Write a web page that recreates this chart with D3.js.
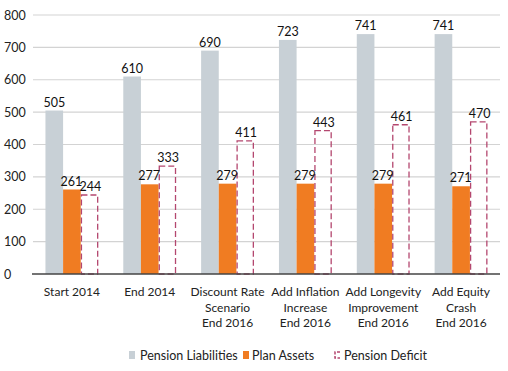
<!DOCTYPE html>
<html><head><meta charset="utf-8">
<script src="https://cdn.jsdelivr.net/npm/d3@7"></script>
<style>body{margin:0;background:#fff}svg{display:block;font-family:Lato,sans-serif}</style>
</head><body><svg id="c" width="508" height="371"></svg>
<script>
const categories = [["Start 2014"],["End 2014"],["Discount Rate","Scenario","End 2016"],["Add Inflation","Increase","End 2016"],["Add Longevity","Improvement","End 2016"],["Add Equity","Crash","End 2016"]];
const liabilities = [505,610,690,723,741,741];
const assets = [261,277,279,279,279,271];
const deficit = [244,333,411,443,461,470];
const seriesNames = ["Pension Liabilities","Plan Assets","Pension Deficit"];
const yTicks = [0,100,200,300,400,500,600,700,800];

const svg = d3.select("#c");
const x0 = d3.scaleBand().domain(d3.range(categories.length)).range([33,500]).paddingInner(0.32).paddingOuter(0.16);
const x1 = d3.scaleBand().domain([0,1,2]).range([0,x0.bandwidth()]);
const y = d3.scaleLinear().domain([0,800]).range([274,15]);

// grid
svg.append("g").selectAll("line").data(yTicks.slice(1)).join("line")
  .attr("x1",33).attr("x2",500).attr("y1",d=>y(d)).attr("y2",d=>y(d))
  .attr("stroke","#d3d3d3").attr("stroke-width",1.2);
svg.append("g").selectAll("text").data(yTicks).join("text")
  .attr("x",4).attr("y",d=>y(d)+4.5).text(d=>d)
  .attr("font-size",12.5).attr("fill","#222");

const data = categories.map((c,i)=>({i, vals:[liabilities[i],assets[i],deficit[i]]}));
const g = svg.append("g").selectAll("g").data(data).join("g")
  .attr("transform",d=>`translate(${x0(d.i)},0)`);
const colors = ["#c8d0d6","#f07c22","none"];
g.selectAll("rect").data(d=>d.vals.map((v,k)=>({v,k}))).join("rect")
  .attr("x",d=>x1(d.k)+(d.k===2?0.7:0)).attr("width",d=>x1.bandwidth()-(d.k===2?1.4:0))
  .attr("y",d=>y(d.v)).attr("height",d=>y(0)-y(d.v))
  .attr("fill",d=>colors[d.k])
  .attr("stroke",d=>d.k===2?"#b4476f":"none")
  .attr("stroke-width",1.3).attr("stroke-dasharray","6,3");
g.selectAll("text.v").data(d=>d.vals.map((v,k)=>({v,k}))).join("text").attr("class","v")
  .attr("x",d=>x1(d.k)+x1.bandwidth()/2+(d.k===1?-0.5:d.k===2?0.8:0)).attr("y",d=>y(d.v)-4)
  .attr("text-anchor","middle").attr("font-size",12.5).attr("fill","#111").text(d=>d.v);

// axis line
svg.append("line").attr("x1",32).attr("x2",500).attr("y1",y(0)).attr("y2",y(0))
  .attr("stroke","#444").attr("stroke-width",1.3);

// category labels
const cl = svg.append("g").selectAll("text").data(categories).join("text")
  .attr("text-anchor","middle").attr("font-size",12).attr("fill","#222")
  .attr("transform",(d,i)=>`translate(${x0(i)+x0.bandwidth()/2},0)`);
cl.selectAll("tspan").data(d=>d).join("tspan").attr("x",0)
  .attr("y",(d,j)=>296+j*15.5).text(d=>d);

// legend
const lg = svg.append("g").attr("font-size",12.5).attr("fill","#222");
const legX = [129,243,335];
lg.append("rect").attr("x",legX[0]).attr("y",351).attr("width",6).attr("height",8).attr("fill",colors[0]);
lg.append("rect").attr("x",legX[1]).attr("y",351).attr("width",6).attr("height",8).attr("fill",colors[1]);
lg.append("path").attr("d",`M${legX[2]+5},352 H${legX[2]} V358 H${legX[2]+5}`).attr("fill","none").attr("stroke","#b4476f").attr("stroke-width",1.5).attr("stroke-dasharray","3,1.5");
const legTX = [140,252,344];
lg.selectAll("text").data(seriesNames).join("text").attr("x",(d,i)=>legTX[i]).attr("y",359.5).text(d=>d);
</script></body></html>
